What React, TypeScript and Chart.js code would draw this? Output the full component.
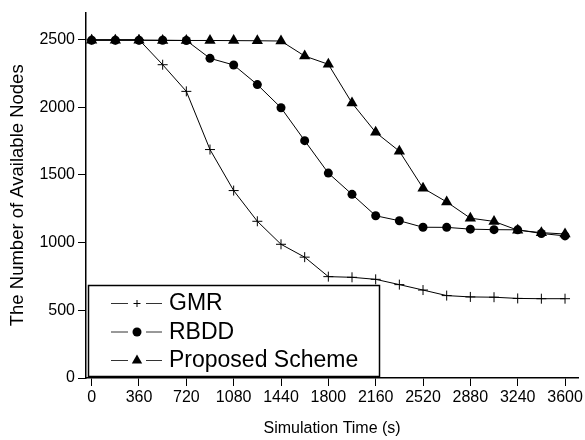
import { useEffect, useRef } from 'react';
import { Chart, registerables } from 'chart.js';

Chart.register(...registerables);

const timeSeconds = [0, 180, 360, 540, 720, 900, 1080, 1260, 1440, 1620, 1800, 1980, 2160, 2340, 2520, 2700, 2880, 3060, 3240, 3420, 3600];
const gmrNodes = [2500, 2500, 2500, 2315, 2118, 1688, 1385, 1158, 988, 893, 749, 744, 729, 690, 650, 609, 599, 597, 588, 586, 586];
const rbddNodes = [2496, 2496, 2496, 2496, 2494, 2362, 2313, 2168, 1997, 1754, 1514, 1357, 1199, 1162, 1114, 1113, 1100, 1096, 1095, 1068, 1050];
const proposedNodes = [2496, 2496, 2496, 2494, 2494, 2494, 2493, 2492, 2490, 2379, 2318, 2032, 1815, 1676, 1403, 1301, 1181, 1157, 1092, 1074, 1064];
const xTickValues = [0, 360, 720, 1080, 1440, 1800, 2160, 2520, 2880, 3240, 3600];
const yTickValues = [0, 500, 1000, 1500, 2000, 2500];
const seriesLabels = ['GMR', 'RBDD', 'Proposed Scheme'];

const FONT = "'Liberation Sans', Arial, sans-serif";

function drawMarker(ctx: CanvasRenderingContext2D, style: string, x: number, y: number, r: number) {
  ctx.save();
  ctx.fillStyle = '#000';
  ctx.strokeStyle = '#000';
  ctx.lineWidth = 1;
  ctx.beginPath();
  if (style === 'cross') {
    ctx.moveTo(x - r, y);
    ctx.lineTo(x + r, y);
    ctx.moveTo(x, y - r);
    ctx.lineTo(x, y + r);
    ctx.stroke();
  } else if (style === 'circle') {
    ctx.arc(x, y, r, 0, Math.PI * 2);
    ctx.fill();
  } else if (style === 'triangle') {
    const h = r * Math.sin(Math.PI / 3);
    ctx.moveTo(x, y - r);
    ctx.lineTo(x + h, y + r / 2);
    ctx.lineTo(x - h, y + r / 2);
    ctx.closePath();
    ctx.fill();
  }
  ctx.restore();
}

const boxLegend = {
  id: 'boxLegend',
  afterDraw(chart: any) {
    const ctx: CanvasRenderingContext2D = chart.ctx;
    const { left, bottom } = chart.chartArea;
    const bx = left + 2;
    const by = bottom - 93;
    const bw = 291;
    const bh = 91;
    ctx.save();
    ctx.fillStyle = '#fff';
    ctx.fillRect(bx, by, bw, bh);
    ctx.strokeStyle = '#000';
    ctx.lineWidth = 1.5;
    ctx.strokeRect(bx + 0.5, by + 0.5, bw, bh);
    const legendSizes = [3.5, 4.5, 6];
    chart.data.datasets.forEach((ds: any, i: number) => {
      const ry = by + 18 + i * 28.5;
      const mx = bx + 49;
      ctx.strokeStyle = '#333';
      ctx.lineWidth = 1;
      ctx.beginPath();
      ctx.moveTo(bx + 23, ry + 0.5);
      ctx.lineTo(mx - 9, ry + 0.5);
      ctx.moveTo(mx + 9, ry + 0.5);
      ctx.lineTo(mx + 25, ry + 0.5);
      ctx.stroke();
      drawMarker(ctx, ds.pointStyle, mx, ry + 0.5, legendSizes[i]);
      ctx.fillStyle = '#000';
      ctx.font = `23px ${FONT}`;
      ctx.textAlign = 'left';
      ctx.textBaseline = 'middle';
      ctx.fillText(ds.label, bx + 81, ry + 1);
    });
    ctx.restore();
  },
};

export default function App() {
  const ref = useRef<HTMLCanvasElement | null>(null);
  useEffect(() => {
    if (!ref.current) return;
    const mk = (data: number[]) => timeSeconds.map((t, i) => ({ x: t, y: data[i] }));
    const chart = new Chart(ref.current, {
      type: 'line',
      data: {
        datasets: [
          { label: seriesLabels[0], data: mk(gmrNodes), pointStyle: 'cross', pointRadius: 5, borderColor: '#000', backgroundColor: '#000', pointBorderColor: '#000', borderWidth: 1, pointBorderWidth: 1 },
          { label: seriesLabels[1], data: mk(rbddNodes), pointStyle: 'circle', pointRadius: 4.5, borderColor: '#000', backgroundColor: '#000', pointBackgroundColor: '#000', borderWidth: 1, pointBorderWidth: 0 },
          { label: seriesLabels[2], data: mk(proposedNodes), pointStyle: 'triangle', pointRadius: 6.5, borderColor: '#000', backgroundColor: '#000', pointBackgroundColor: '#000', borderWidth: 1, pointBorderWidth: 0 },
        ] as any,
      },
      options: {
        responsive: false,
        animation: false,
        layout: { padding: { left: 0, right: 5, top: 9, bottom: 0 } },
        plugins: { legend: { display: false }, tooltip: { enabled: false } },
        elements: { line: { tension: 0 } },
        scales: {
          x: {
            type: 'linear',
            min: -43,
            max: 3700,
            afterBuildTicks: (s: any) => { s.ticks = xTickValues.map((v) => ({ value: v })); },
            afterFit: (s: any) => { s.height = 62; },
            ticks: { color: '#000', font: { family: FONT, size: 16 }, padding: 2, maxRotation: 0, autoSkip: false, callback: (v: any) => String(v) },
            grid: { display: true, drawOnChartArea: false, drawTicks: true, tickLength: 8, color: '#000', lineWidth: 1 },
            border: { display: true, color: '#000', width: 1.5 },
            title: { display: true, text: 'Simulation Time (s)', color: '#000', font: { family: FONT, size: 16 }, padding: { top: 0, bottom: 2 } },
          },
          y: {
            type: 'linear',
            min: 0,
            max: 2700,
            afterBuildTicks: (s: any) => { s.ticks = yTickValues.map((v) => ({ value: v })); },
            afterFit: (s: any) => { s.width = 86; },
            ticks: { color: '#000', font: { family: FONT, size: 16 }, padding: 3, callback: (v: any) => String(v) },
            grid: { display: true, drawOnChartArea: false, drawTicks: true, tickLength: 8, color: '#000', lineWidth: 1 },
            border: { display: true, color: '#000', width: 1.5 },
            title: { display: true, text: 'The Number of Available Nodes', color: '#000', font: { family: FONT, size: 18.5 }, padding: { top: 7, bottom: 0 } },
          },
        },
      },
      plugins: [boxLegend],
    });
    return () => chart.destroy();
  }, []);
  return (
    <div style={{ position: 'fixed', left: 0, top: 0, width: 585, height: 440, background: '#fff' }}>
      <canvas ref={ref} width={585} height={440} style={{ display: 'block' }} />
    </div>
  );
}
